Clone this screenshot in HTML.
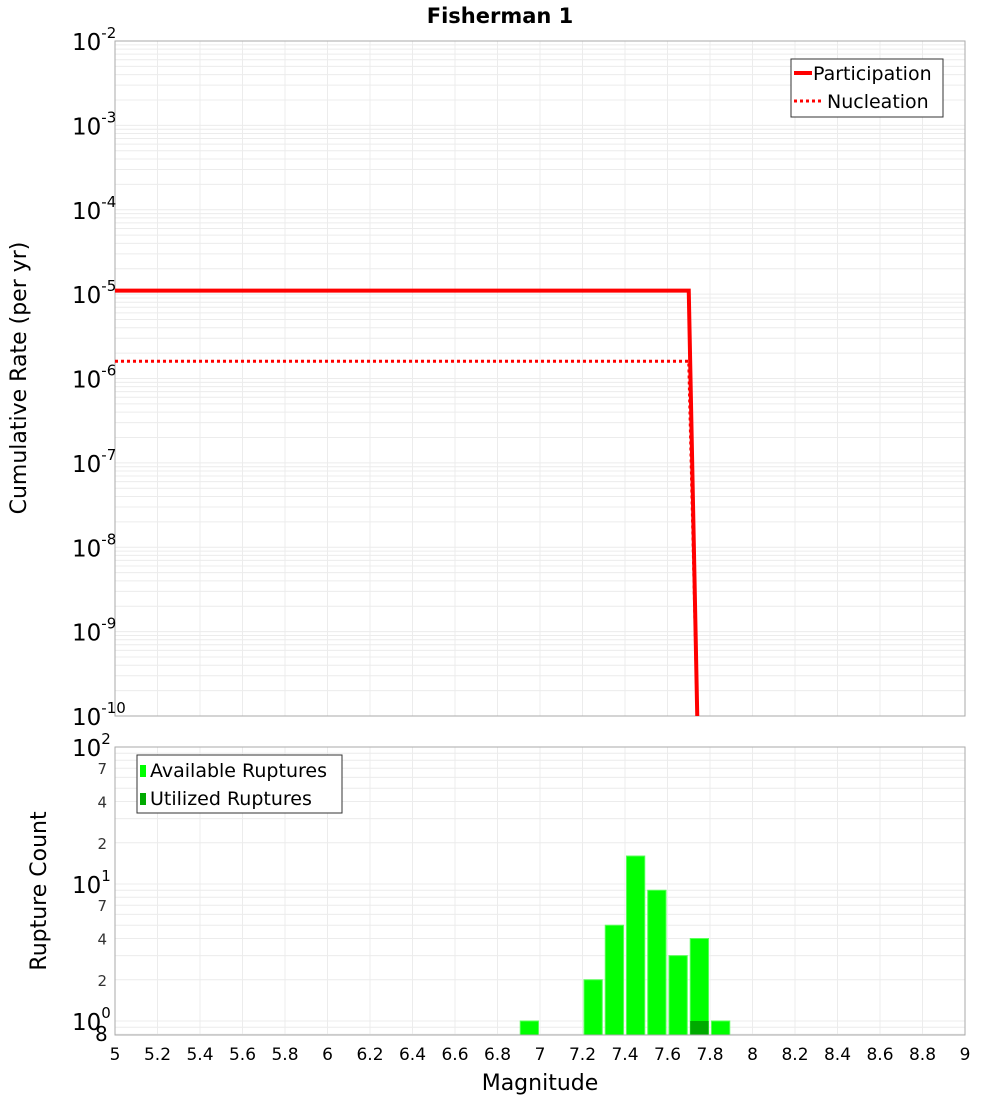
<!DOCTYPE html>
<html><head><meta charset="utf-8"><style>
body{margin:0;background:#fff;}
svg text{font-family:"DejaVu Sans","Liberation Sans",sans-serif;}
</style></head><body>
<svg id="chart" width="1000" height="1100" xmlns="http://www.w3.org/2000/svg">
<text x="500" y="23" text-anchor="middle" font-size="21" font-weight="bold">Fisherman 1</text>
<g id="topg"></g>
<g id="botg"></g>
</svg>
<script>
const partM=[5,7.7,7.74];
const partV=[1.1e-5,1.1e-5,1e-10];
const nuclM=[5,7.7,7.74];
const nuclV=[1.6e-6,1.6e-6,1e-10];
const barM=[6.95,7.25,7.35,7.45,7.55,7.65,7.75,7.85];
const barAvail=[1,2,5,16,9,3,4,1];
const utilM=[7.75];
const utilV=[1];
const xTicks=[5,5.2,5.4,5.6,5.8,6,6.2,6.4,6.6,6.8,7,7.2,7.4,7.6,7.8,8,8.2,8.4,8.6,8.8,9];
const topExp=[-10,-9,-8,-7,-6,-5,-4,-3,-2];
const botMinor=[2,4,7,20,40,70];

const NS="http://www.w3.org/2000/svg";
const L=115,R=965;
const T1=41,B1=716,T2=747,B2=1035;
const xs=m=>L+(m-5)/4*(R-L);
const y1=v=>T1+(-2-Math.log10(v))/8*(B1-T1);
const y2=v=>T2+(2-Math.log10(v))*137;
function el(p,t,a,txt){const e=document.createElementNS(NS,t);for(const k in a)e.setAttribute(k,a[k]);if(txt!==undefined)e.textContent=txt;p.appendChild(e);return e;}
const topG=document.getElementById('topg'),botG=document.getElementById('botg');
let g=el(topG,'g',{});


for(let e=-10;e<-2;e++)for(let k=1;k<10;k++){const y=y1(k*Math.pow(10,e));el(g,'line',{x1:L,x2:R,y1:y,y2:y,stroke:'#ececec','stroke-width':1});}
xTicks.forEach(m=>{el(g,'line',{x1:xs(m),x2:xs(m),y1:T1,y2:B1,stroke:'#ececec'});});
let f=el(topG,'rect',{x:L,y:T1,width:R-L,height:B1-T1,fill:'none',stroke:'#aaa'});


topExp.forEach(e=>{const y=y1(Math.pow(10,e));const t=el(topG,'text',{x:72,y:y+9,'font-size':23});


el(t,'tspan',{},'10');el(t,'tspan',{dy:-12,'font-size':15},String(e));});
function pts(M,V){return M.map((m,i)=>xs(m)+','+y1(V[i])).join(' ');}
let cp=el(topG,'clipPath',{id:'c1'});el(cp,'rect',{x:L,y:T1,width:R-L,height:B1-T1+1});
let p=el(topG,'polyline',{points:pts(partM,partV),fill:'none',stroke:'#f00','stroke-width':4,'clip-path':'url(#c1)'});


p=el(topG,'polyline',{points:pts(nuclM,nuclV),fill:'none',stroke:'#f00','stroke-width':3,'stroke-dasharray':'3,3','clip-path':'url(#c1)'});


let yt=el(topG,'text',{x:0,y:0,'font-size':22,'text-anchor':'middle',transform:'translate(26,378) rotate(-90)'},'Cumulative Rate (per yr)');


let lg=el(topG,'g',{});


el(lg,'rect',{x:791,y:59,width:152,height:58,fill:'#fff',stroke:'#333'});
el(lg,'line',{x1:794,x2:812,y1:73,y2:73,stroke:'#f00','stroke-width':4});
el(lg,'text',{x:813,y:80,'font-size':19},'Participation');
el(lg,'line',{x1:794,x2:822,y1:101,y2:101,stroke:'#f00','stroke-width':3,'stroke-dasharray':'3,3'});
el(lg,'text',{x:827,y:108,'font-size':19},'Nucleation');
g=el(botG,'g',{});


for(let e=-1;e<2;e++)for(let k=1;k<10;k++){const v=k*Math.pow(10,e);const y=y2(v);if(y>B2||y<T2)continue;el(g,'line',{x1:L,x2:R,y1:y,y2:y,stroke:'#ececec'});}
xTicks.forEach(m=>{el(g,'line',{x1:xs(m),x2:xs(m),y1:T2,y2:B2,stroke:'#ececec'});});
barM.forEach((m,i)=>{const r=el(botG,'rect',{x:xs(m-0.05)+1.5,y:y2(barAvail[i]),width:xs(0.1+5)-L-3,height:B2-y2(barAvail[i]),fill:'#00ff00',stroke:'#55ff55','stroke-width':1});

});
utilM.forEach((m,i)=>{const r=el(botG,'rect',{x:xs(m-0.05)+1.5,y:y2(utilV[i]),width:xs(0.1+5)-L-3,height:B2-y2(utilV[i]),fill:'#00aa00'});

});
f=el(botG,'rect',{x:L,y:T2,width:R-L,height:B2-T2,fill:'none',stroke:'#aaa'});


[0,1,2].forEach(e=>{const y=y2(Math.pow(10,e));const t=el(botG,'text',{x:72,y:y+9,'font-size':23});


el(t,'tspan',{},'10');el(t,'tspan',{dy:-12,'font-size':15},String(e));});
botMinor.forEach(v=>{const t=el(botG,'text',{x:107,y:y2(v)+6,'font-size':15,'text-anchor':'end',fill:'#333'},String(v).charAt(0));

});
let t8=el(botG,'text',{x:95,y:1041,'font-size':20},'8');


xTicks.forEach(m=>{const t=el(botG,'text',{x:xs(m),y:1060,'font-size':17,'text-anchor':'middle'},String(m));

});
yt=el(botG,'text',{x:0,y:0,'font-size':22,'text-anchor':'middle',transform:'translate(46,891) rotate(-90)'},'Rupture Count');


let xt=el(botG,'text',{x:540,y:1090,'font-size':22,'text-anchor':'middle'},'Magnitude');


lg=el(botG,'g',{});


el(lg,'rect',{x:137,y:755,width:205,height:58,fill:'#fff',stroke:'#333'});
el(lg,'rect',{x:140,y:765,width:6,height:12,fill:'#00ff00'});
el(lg,'text',{x:150,y:777,'font-size':19},'Available Ruptures');
el(lg,'rect',{x:140,y:793,width:6,height:12,fill:'#00aa00'});
el(lg,'text',{x:150,y:805,'font-size':19},'Utilized Ruptures');
</script>
</body></html>
